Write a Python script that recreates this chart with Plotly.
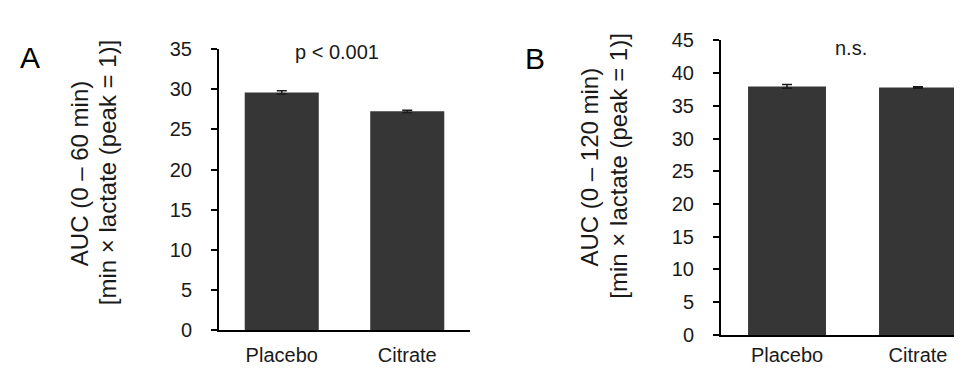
import plotly.graph_objects as go

# ---- data ----
categories = ["Placebo", "Citrate"]
auc_0_60 = [29.6, 27.25]
auc_0_60_err = [0.2, 0.15]
auc_0_120 = [37.97, 37.8]
auc_0_120_err = [0.3, 0.12]
yticks_a = [0, 5, 10, 15, 20, 25, 30, 35]
yticks_b = [0, 5, 10, 15, 20, 25, 30, 35, 40, 45]
title_a = ["AUC (0 – 60 min)", "[min × lactate (peak = 1)]"]
title_b = ["AUC (0 – 120 min)", "[min × lactate (peak = 1)]"]

W, H = 962, 369
FONT = "Liberation Sans, Arial, sans-serif"
BAR = "#363636"
TXT = "#1a1a1a"
TICK = 20

def px_x(v):
    return v / W

def px_y(v):
    return 1 - v / H

fig = go.Figure()
fig.add_trace(go.Bar(
    x=categories, y=auc_0_60, width=0.59,
    marker=dict(color=BAR, line=dict(width=0)),
    error_y=dict(type="data", array=auc_0_60_err, color="#1a1a1a", thickness=1.5, width=5),
    xaxis="x", yaxis="y", showlegend=False))
fig.add_trace(go.Bar(
    x=categories, y=auc_0_120, width=0.595,
    marker=dict(color=BAR, line=dict(width=0)),
    error_y=dict(type="data", array=auc_0_120_err, color="#1a1a1a", thickness=1.5, width=5),
    xaxis="x2", yaxis="y2", showlegend=False))

xcommon = dict(showline=True, linecolor="black", linewidth=2, showgrid=False, zeroline=False,
               ticks="outside", tickcolor="rgba(0,0,0,0)",
               tickfont=dict(family=FONT, size=TICK, color=TXT), fixedrange=True)
ycommon = dict(showline=True, linecolor="black", linewidth=2, showgrid=False, zeroline=False,
               ticks="outside", ticklen=6, tickwidth=2, tickcolor="black",
               ticklabelstandoff=15,
               tickfont=dict(family=FONT, size=TICK, color=TXT), fixedrange=True)

def rot_label(text, xpx, ypx):
    return dict(text=text, textangle=-90, x=px_x(xpx), y=px_y(ypx), xref="paper", yref="paper",
                xanchor="center", yanchor="middle", showarrow=False,
                font=dict(family=FONT, size=24, color=TXT))

fig.update_layout(
    width=W, height=H,
    margin=dict(l=0, r=0, t=0, b=0),
    paper_bgcolor="white", plot_bgcolor="white",
    bargap=0.4,
    xaxis=dict(domain=[px_x(211), px_x(462)], anchor="y", range=[-0.5, 1.5], ticklen=6, **xcommon),
    yaxis=dict(domain=[px_y(331), px_y(32)], anchor="x", range=[0, 35], tickvals=yticks_a, **ycommon),
    xaxis2=dict(domain=[px_x(713), 1.0], anchor="y2", range=[-0.504, 1.397], ticklen=1, **xcommon),
    yaxis2=dict(domain=[px_y(336), px_y(22.7)], anchor="x2", range=[0, 45], tickvals=yticks_b, **ycommon),
    annotations=[
        rot_label(title_a[0], 71, 165),
        rot_label(title_a[1], 99, 164),
        rot_label(title_b[0], 582, 158),
        rot_label(title_b[1], 611, 157),
        dict(text="A", x=px_x(22), y=px_y(41), xref="paper", yref="paper",
             xanchor="center", yanchor="middle", showarrow=False,
             font=dict(family=FONT, size=30, color="black")),
        dict(text="B", x=px_x(527), y=px_y(42), xref="paper", yref="paper",
             xanchor="center", yanchor="middle", showarrow=False,
             font=dict(family=FONT, size=30, color="black")),
        dict(text="p < 0.001", x=px_x(329), y=px_y(35), xref="paper", yref="paper",
             xanchor="center", yanchor="middle", showarrow=False,
             font=dict(family=FONT, size=TICK, color=TXT)),
        dict(text="n.s.", x=px_x(843), y=px_y(31), xref="paper", yref="paper",
             xanchor="center", yanchor="middle", showarrow=False,
             font=dict(family=FONT, size=TICK, color=TXT)),
    ],
)

fig.write_html("out.html")
